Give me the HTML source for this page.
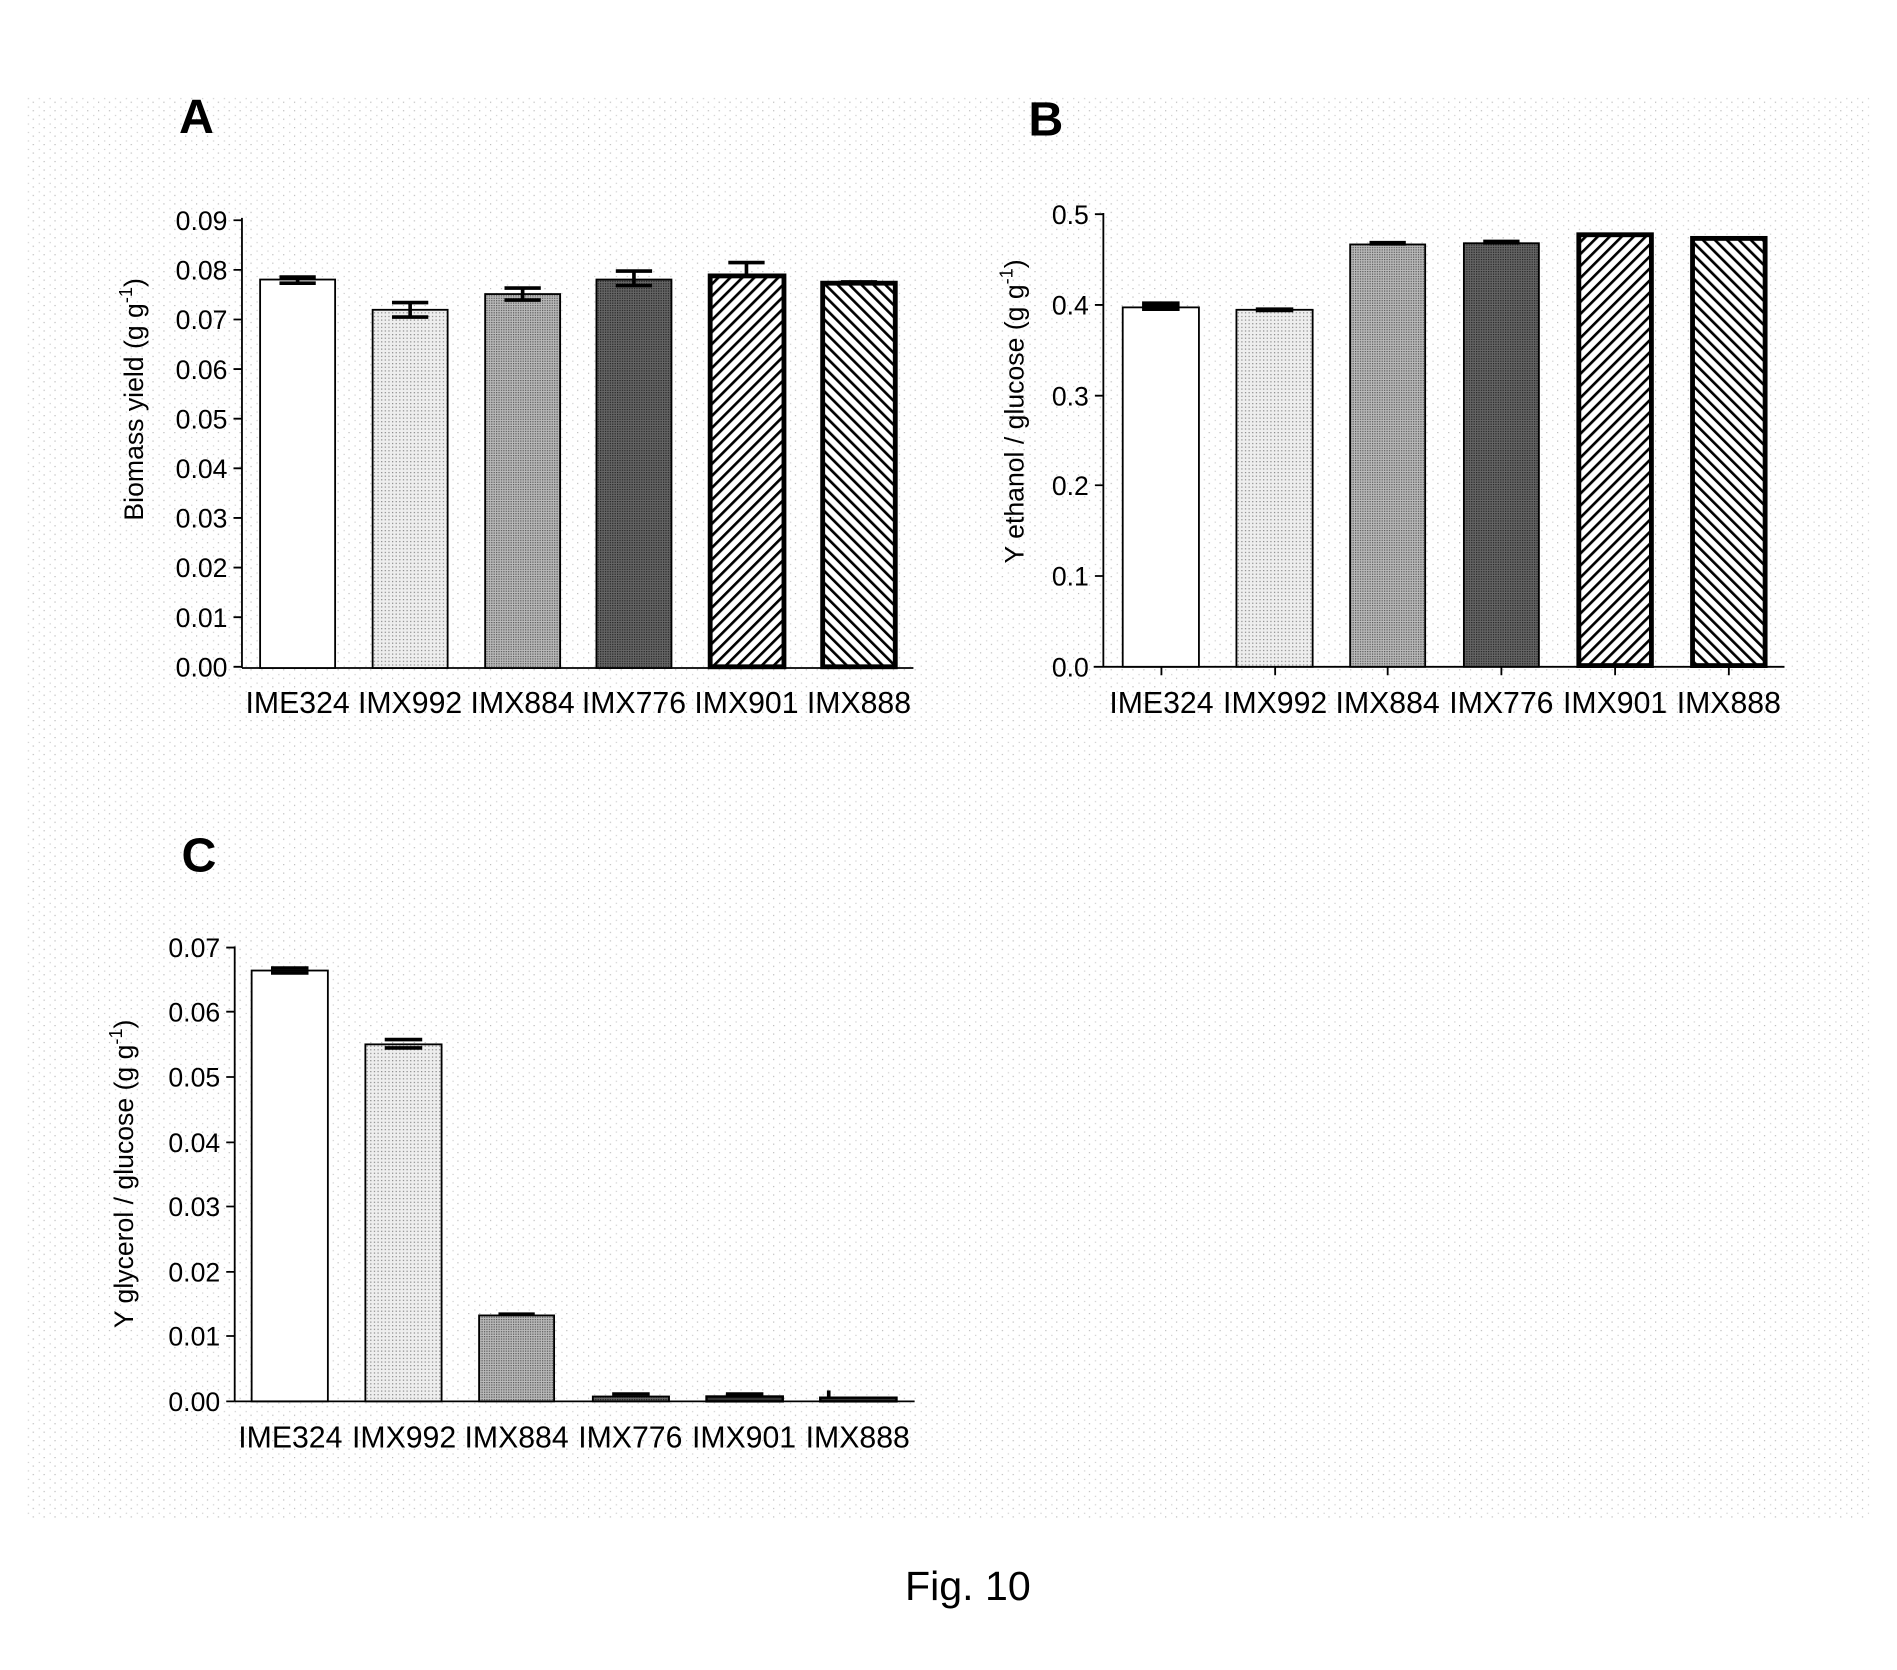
<!DOCTYPE html>
<html><head><meta charset="utf-8"><style>html,body{margin:0;padding:0;background:#fff}svg{display:block}</style></head>
<body>
<svg width="1897" height="1670" viewBox="0 0 1568 1380" preserveAspectRatio="none" xmlns="http://www.w3.org/2000/svg" font-family="Liberation Sans, sans-serif">
<defs>
<pattern id="bg" width="9" height="7" patternUnits="userSpaceOnUse"><rect x="0" y="0" width="1" height="1" fill="#bbb"/><rect x="5" y="4" width="1" height="1" fill="#ccc"/></pattern>
<pattern id="dots" width="3" height="3" patternUnits="userSpaceOnUse"><rect width="3" height="3" fill="#eee"/><rect width="1" height="1" fill="#888"/></pattern>
<pattern id="med" width="2" height="2" patternUnits="userSpaceOnUse"><rect width="2" height="2" fill="#bbb"/><rect width="1" height="1" fill="#555"/></pattern>
<pattern id="dark" width="2" height="2" patternUnits="userSpaceOnUse"><rect width="2" height="2" fill="#666"/><rect width="1" height="1" fill="#222"/></pattern>
<pattern id="fw" width="7" height="7" patternUnits="userSpaceOnUse" patternTransform="rotate(45)"><rect width="7" height="7" fill="#fff"/><rect width="2.2" height="7" fill="#000"/></pattern>
<pattern id="bw" width="7" height="7" patternUnits="userSpaceOnUse" patternTransform="rotate(-45)"><rect width="7" height="7" fill="#fff"/><rect width="2.2" height="7" fill="#000"/></pattern>
</defs>
<rect x="20" y="80" width="1525" height="1175" fill="url(#bg)"/>

<g font-weight="bold" font-size="40">
<text x="148" y="110">A</text><text x="850" y="112">B</text><text x="150" y="720">C</text>
</g>
<text x="800" y="1322" font-size="34" text-anchor="middle">Fig. 10</text>

<!-- Panel A -->
<g stroke="#000" stroke-width="1.5" fill="none">
<line x1="200" y1="180" x2="200" y2="552"/><line x1="200" y1="552" x2="755" y2="552"/>
<path d="M193 182H200M193 223H200M193 264H200M193 305H200M193 346H200M193 387H200M193 428H200M193 469H200M193 510H200M193 551H200"/>
</g>
<g font-size="22" text-anchor="end">
<text x="188" y="190">0.09</text><text x="188" y="231">0.08</text><text x="188" y="272">0.07</text><text x="188" y="313">0.06</text><text x="188" y="354">0.05</text><text x="188" y="395">0.04</text><text x="188" y="436">0.03</text><text x="188" y="477">0.02</text><text x="188" y="518">0.01</text><text x="188" y="559">0.00</text>
</g>
<g stroke="#000">
<rect x="215" y="231" width="62" height="321" fill="#fff" stroke-width="1.5"/>
<rect x="308" y="256" width="62" height="296" fill="url(#dots)" stroke-width="1.5"/>
<rect x="401" y="243" width="62" height="309" fill="url(#med)" stroke-width="1.5"/>
<rect x="493" y="231" width="62" height="321" fill="url(#dark)" stroke-width="1.5"/>
<rect x="587" y="228" width="61" height="323" fill="url(#fw)" stroke-width="4"/>
<rect x="680" y="234" width="60" height="317" fill="url(#bw)" stroke-width="4"/>
</g>
<g stroke="#000" stroke-width="3">
<path d="M231 229H261M231 234H261M246 229V234"/>
<path d="M324 250H354M324 262H354M339 250V262"/>
<path d="M417 238H447M417 248H447M432 238V248"/>
<path d="M509 224H539M509 236H539M524 224V236"/>
<path d="M602 217H632M617 217V228"/>
<path d="M695 233H725"/>
</g>
<g font-size="25" text-anchor="middle">
<text x="246" y="589">IME324</text><text x="339" y="589">IMX992</text><text x="432" y="589">IMX884</text><text x="524" y="589">IMX776</text><text x="617" y="589">IMX901</text><text x="710" y="589">IMX888</text>
</g>
<text transform="translate(118,330) rotate(-90)" font-size="22" text-anchor="middle">Biomass yield (g g<tspan dy="-9" font-size="15">-1</tspan><tspan dy="9">)</tspan></text>

<!-- Panel B -->
<g stroke="#000" stroke-width="1.5" fill="none">
<line x1="912" y1="176" x2="912" y2="551"/><line x1="904" y1="551" x2="1475" y2="551"/>
<path d="M905 177H912M905 252H912M905 327H912M905 401H912M905 476H912"/>
<path d="M960 551V558M1054 551V558M1147 551V558M1241 551V558M1335 551V558M1429 551V558"/>
</g>
<g font-size="22" text-anchor="end">
<text x="900" y="185">0.5</text><text x="900" y="260">0.4</text><text x="900" y="335">0.3</text><text x="900" y="409">0.2</text><text x="900" y="484">0.1</text><text x="900" y="559">0.0</text>
</g>
<g stroke="#000">
<rect x="928" y="254" width="63" height="297" fill="#fff" stroke-width="1.5"/>
<rect x="1022" y="256" width="63" height="295" fill="url(#dots)" stroke-width="1.5"/>
<rect x="1116" y="202" width="62" height="349" fill="url(#med)" stroke-width="1.5"/>
<rect x="1210" y="201" width="62" height="350" fill="url(#dark)" stroke-width="1.5"/>
<rect x="1305" y="194" width="60" height="356" fill="url(#fw)" stroke-width="4"/>
<rect x="1399" y="197" width="60" height="353" fill="url(#bw)" stroke-width="4"/>
</g>
<g stroke="#000" stroke-width="4">
<path d="M944 251H975M944 255H975"/><path d="M1038 256H1069"/><path d="M1132 201H1162"/><path d="M1226 200H1256"/>
</g>
<g font-size="25" text-anchor="middle">
<text x="960" y="589">IME324</text><text x="1054" y="589">IMX992</text><text x="1147" y="589">IMX884</text><text x="1241" y="589">IMX776</text><text x="1335" y="589">IMX901</text><text x="1429" y="589">IMX888</text>
</g>
<text transform="translate(846,340) rotate(-90)" font-size="22" text-anchor="middle">Y ethanol / glucose (g g<tspan dy="-9" font-size="15">-1</tspan><tspan dy="9">)</tspan></text>

<!-- Panel C -->
<g stroke="#000" stroke-width="1.5" fill="none">
<line x1="194" y1="782" x2="194" y2="1158"/><line x1="194" y1="1158" x2="756" y2="1158"/>
<path d="M187 783H194M187 836H194M187 890H194M187 944H194M187 997H194M187 1051H194M187 1104H194M187 1158H194"/>
</g>
<g font-size="22" text-anchor="end">
<text x="182" y="791">0.07</text><text x="182" y="844">0.06</text><text x="182" y="898">0.05</text><text x="182" y="952">0.04</text><text x="182" y="1005">0.03</text><text x="182" y="1059">0.02</text><text x="182" y="1112">0.01</text><text x="182" y="1166">0.00</text>
</g>
<g stroke="#000">
<rect x="208" y="802" width="63" height="356" fill="#fff" stroke-width="1.5"/>
<rect x="302" y="863" width="63" height="295" fill="url(#dots)" stroke-width="1.5"/>
<rect x="396" y="1087" width="62" height="71" fill="url(#med)" stroke-width="1.5"/>
<rect x="490" y="1154" width="63" height="4" fill="url(#dark)" stroke-width="1.5"/>
<rect x="584" y="1154" width="63" height="4" fill="#333" stroke-width="2"/>
<rect x="678" y="1155" width="63" height="3" fill="#333" stroke-width="2"/>
</g>
<g stroke="#000" stroke-width="3">
<path d="M224 800H255M224 804H255"/><path d="M318 859H349M318 866H349"/><path d="M412 1086H442"/><path d="M506 1152H537"/><path d="M600 1152H631"/><path d="M685 1149V1155"/>
</g>
<g font-size="25" text-anchor="middle">
<text x="240" y="1196">IME324</text><text x="334" y="1196">IMX992</text><text x="427" y="1196">IMX884</text><text x="521" y="1196">IMX776</text><text x="615" y="1196">IMX901</text><text x="709" y="1196">IMX888</text>
</g>
<text transform="translate(110,970) rotate(-90)" font-size="22" text-anchor="middle">Y glycerol / glucose (g g<tspan dy="-9" font-size="15">-1</tspan><tspan dy="9">)</tspan></text>
</svg>
</body></html>
